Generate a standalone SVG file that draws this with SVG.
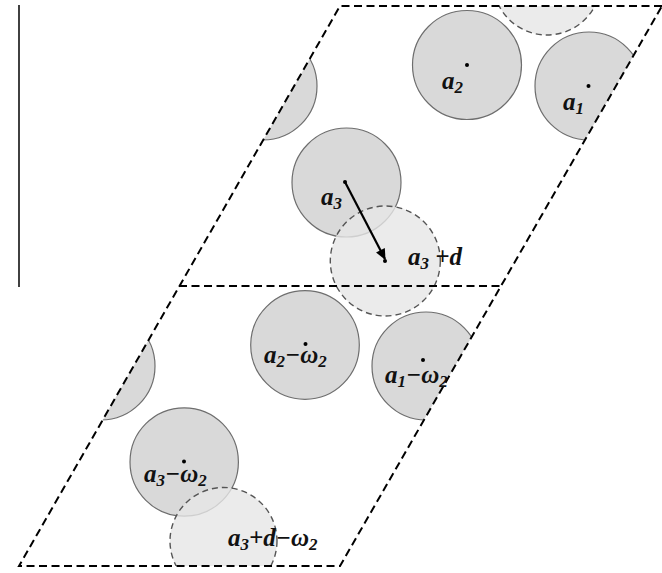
<svg xmlns="http://www.w3.org/2000/svg" width="662" height="573" viewBox="0 0 662 573">
<style>
.solid{fill:#d9d9d9;stroke:#6e6e6e;stroke-width:1.2}
.ghost{fill:#e6e6e6;fill-opacity:0.8;stroke:#555;stroke-width:1.4;stroke-dasharray:6 4}
.cell{fill:none;stroke:#000;stroke-width:2;stroke-dasharray:8 4.5}
.lbl{font-family:"Liberation Serif",serif;font-weight:bold;font-style:italic;font-size:25px;fill:#111}
.sub{font-size:17px}
.dot{fill:#000}
</style>
<defs>
<clipPath id="cellclip"><polygon points="340,6 662,6 340,566 19,566"/></clipPath>
<marker id="ah" viewBox="0 0 10 10" refX="9" refY="5" markerWidth="6" markerHeight="5" orient="auto" markerUnits="strokeWidth"><path d="M0,0.5 L10,5 L0,9.5 Z" fill="#000"/></marker>
</defs>
<rect width="662" height="573" fill="#fff"/>
<line x1="19" y1="5" x2="19" y2="287" stroke="#111" stroke-width="1.6"/>
<g clip-path="url(#cellclip)">
<g id="a2"><circle class="solid" cx="467" cy="65" r="54.5"/></g>
<g id="a1"><circle class="solid" cx="589" cy="86" r="54"/></g>
<g id="a1-w1"><circle class="solid" cx="263" cy="86" r="54"/></g>
<g id="a3"><circle class="solid" cx="346.5" cy="182.5" r="54.5"/></g>
<g id="a1-w1-w2"><circle class="solid" cx="101" cy="366" r="54"/></g>
<g id="a2-w2"><circle class="solid" cx="305" cy="345" r="54.3"/></g>
<g id="a1-w2"><circle class="solid" cx="426" cy="366" r="54"/></g>
<g id="a3-w2"><circle class="solid" cx="184.2" cy="462" r="54.2"/></g>
<g id="a3d-top"><circle class="ghost" cx="547" cy="-19" r="54"/></g>
<g id="a3d"><circle class="ghost" cx="385.3" cy="261" r="55"/></g>
<g id="a3d-w2"><circle class="ghost" cx="223.5" cy="541" r="53.5"/></g>
</g>
<g id="cell">
<polyline class="cell" points="662,6 340,6 19,566 340,566 662,6"/>
<line class="cell" x1="179" y1="286" x2="501.5" y2="286"/>
</g>
<g id="connectors">
<line x1="345" y1="182" x2="385" y2="259" stroke="#000" stroke-width="2.2" marker-end="url(#ah)"/>
</g>
<g id="dots">
<circle class="dot" cx="467" cy="65" r="2"/>
<circle class="dot" cx="588.5" cy="86" r="2"/>
<circle class="dot" cx="345" cy="182" r="2"/>
<circle class="dot" cx="385" cy="261" r="2"/>
<circle class="dot" cx="305.5" cy="344" r="2"/>
<circle class="dot" cx="423" cy="360" r="2"/>
<circle class="dot" cx="184" cy="461.5" r="2"/>
</g>
<g id="labels">
<text class="lbl" x="442" y="89">a<tspan class="sub" dy="4">2</tspan></text>
<text class="lbl" x="563" y="110">a<tspan class="sub" dy="4">1</tspan></text>
<text class="lbl" x="321" y="205">a<tspan class="sub" dy="4">3</tspan></text>
<text class="lbl" x="408" y="265">a<tspan class="sub" dy="4">3</tspan><tspan dy="-4"> +d</tspan></text>
<text class="lbl" x="264" y="363">a<tspan class="sub" dy="4">2</tspan><tspan dy="-4">−ω</tspan><tspan class="sub" dy="4">2</tspan></text>
<text class="lbl" x="385" y="383">a<tspan class="sub" dy="4">1</tspan><tspan dy="-4">−ω</tspan><tspan class="sub" dy="4">2</tspan></text>
<text class="lbl" x="144" y="482">a<tspan class="sub" dy="4">3</tspan><tspan dy="-4">−ω</tspan><tspan class="sub" dy="4">2</tspan></text>
<text class="lbl" x="228" y="546">a<tspan class="sub" dy="4">3</tspan><tspan dy="-4">+d−ω</tspan><tspan class="sub" dy="4">2</tspan></text>
</g>
</svg>
